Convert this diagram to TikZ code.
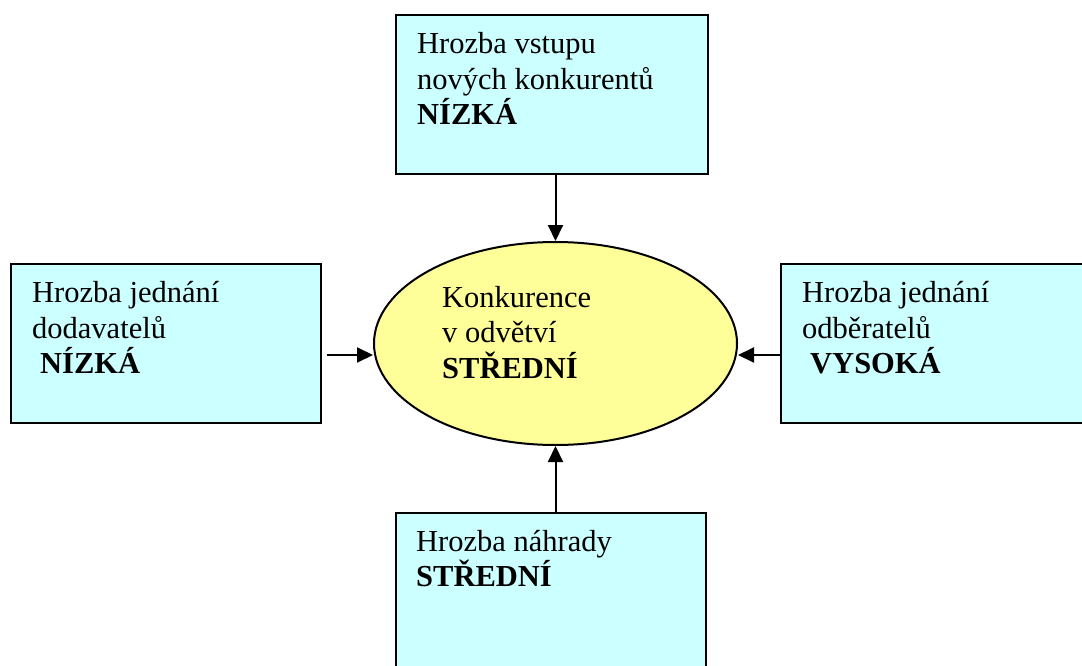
\documentclass[tikz,border=0pt]{standalone}
\usepackage{fontspec}
\setmainfont{Liberation Serif}
\usetikzlibrary{shapes.geometric,arrows.meta}
\definecolor{boxcyan}{HTML}{CCFFFF}
\definecolor{ellyellow}{HTML}{FFFF99}
\begin{document}
\begin{tikzpicture}[x=1pt,y=-1pt,
  box/.style={draw=black,line width=2pt,fill=boxcyan,rectangle,inner sep=0pt},
  oval/.style={draw=black,line width=2pt,fill=ellyellow,ellipse,inner sep=0pt,
    minimum width=363pt,minimum height=203pt},
  txt/.style={anchor=base west,align=left,inner sep=0pt,
    font=\fontsize{30.5pt}{35.5pt}\selectfont},
  arr/.style={line width=2pt,-{Triangle[length=16pt,width=15pt]}}]
\useasboundingbox (0,0) rectangle (1082,666);
\fill[white] (0,0) rectangle (1082,666);
\clip (0,0) rectangle (1082,666);
% boxes
\node[box,minimum width=312pt,minimum height=159pt] (top) at (552,94.5) {};
\node[box,minimum width=310pt,minimum height=159pt] (left) at (166,343.5) {};
\node[box,minimum width=312pt,minimum height=159pt] (right) at (937,343.5) {};
\node[box,minimum width=310pt,minimum height=170pt] (bot) at (551,598) {};
\node[oval] (ell) at (555.5,343.5) {};
% texts (anchored at the baseline of the last line)
\node[txt] (toptxt) at (417,125) {Hrozba vstupu\\nových konkurentů\\{\bfseries NÍZKÁ}};
\node[txt] (lefttxt) at (32,373.5) {Hrozba jednání\\dodavatelů\\\hspace*{8pt}{\bfseries NÍZKÁ}};
\node[txt] (righttxt) at (802,373.5) {Hrozba jednání\\odběratelů\\\hspace*{8pt}{\bfseries VYSOKÁ}};
\node[txt] (bottxt) at (416,586.5) {Hrozba náhrady\\{\bfseries STŘEDNÍ}};
\node[txt] (elltxt) at (442,378) {Konkurence\\v odvětví\\{\bfseries STŘEDNÍ}};
% connectors
\coordinate (lstart) at (327,355);
\draw[arr] (ell.north |- top.south) -- (ell.north);
\draw[arr] (ell.south |- bot.north) -- (ell.south);
\draw[arr] (lstart) -- (lstart -| ell.west);
\draw[arr] (right.west |- lstart) -- (lstart -| ell.east);
\end{tikzpicture}
\end{document}
